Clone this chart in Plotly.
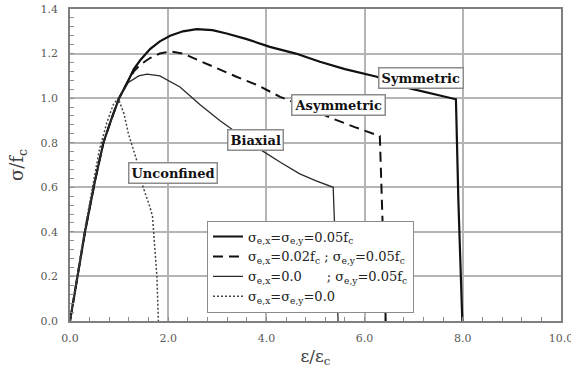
import plotly.graph_objects as go

# Normalised stress-strain curves (strain / eps_c, stress / f_c)
sym_x = [0, 0.15, 0.305, 0.51, 0.68, 0.85, 1.0, 1.19, 1.3, 1.43, 1.63, 1.83, 2.04, 2.3,
         2.58, 2.9, 3.19, 3.6, 4.07, 4.6, 5.09, 5.6, 6.25, 6.92, 7.4, 7.86, 7.91, 7.99]
sym_y = [0, 0.2, 0.4, 0.63, 0.8, 0.91, 1.0, 1.08, 1.13, 1.17, 1.22, 1.255, 1.28, 1.30,
         1.31, 1.305, 1.29, 1.265, 1.23, 1.20, 1.163, 1.13, 1.096, 1.044, 1.02, 0.995, 0.54, 0]

asym_x = [0, 0.15, 0.305, 0.51, 0.68, 0.85, 1.0, 1.19, 1.3, 1.43, 1.63, 1.83, 2.04, 2.3,
          2.51, 2.9, 3.39, 3.8, 4.28, 4.8, 5.33, 5.8, 6.31, 6.43]
asym_y = [0, 0.2, 0.4, 0.63, 0.8, 0.91, 1.0, 1.08, 1.12, 1.15, 1.18, 1.20, 1.21, 1.20,
          1.18, 1.14, 1.096, 1.06, 1.006, 0.96, 0.91, 0.87, 0.83, 0]

biax_x = [0, 0.15, 0.305, 0.51, 0.68, 0.85, 1.0, 1.19, 1.4, 1.57, 1.83, 2.24, 2.65, 3.05,
          3.5, 3.87, 4.3, 4.68, 5.0, 5.36, 5.46]
biax_y = [0, 0.2, 0.4, 0.63, 0.8, 0.91, 1.0, 1.07, 1.10, 1.108, 1.10, 1.05, 0.97, 0.90,
          0.83, 0.77, 0.71, 0.66, 0.63, 0.60, 0]

unc_x = [0, 0.15, 0.3, 0.45, 0.6, 0.75, 0.88, 0.98, 1.1, 1.19, 1.36, 1.49, 1.54, 1.63,
         1.68, 1.71, 1.77, 1.80]
unc_y = [0, 0.21, 0.41, 0.59, 0.77, 0.89, 0.97, 1.0, 0.93, 0.84, 0.72, 0.60, 0.57, 0.51,
         0.47, 0.39, 0.2, 0]

series_names = [
    "σ<sub>e,x</sub>=σ<sub>e,y</sub>=0.05f<sub>c</sub>",
    "σ<sub>e,x</sub>=0.02f<sub>c</sub> ; σ<sub>e,y</sub>=0.05f<sub>c</sub>",
    "σ<sub>e,x</sub>=0.0\u00a0\u00a0\u00a0\u00a0\u00a0\u00a0; σ<sub>e,y</sub>=0.05f<sub>c</sub>",
    "σ<sub>e,x</sub>=σ<sub>e,y</sub>=0.0",
]

# Curve labels and where they sit
label_text = ["Symmetric", "Asymmetric", "Biaxial", "Unconfined"]
label_x = [7.14, 5.46, 3.77, 2.10]
label_y = [1.092, 0.969, 0.813, 0.665]

# Axis ticks: major step, minor step, label format
x_range = [0, 10]
x_major, x_minor = 2.0, 0.4
y_range = [0, 1.4]
y_major, y_minor = 0.2, 0.04
tick_format = ".1f"

SERIF = "DejaVu Serif"
GRID = "#b4b4b4"

fig = go.Figure()
fig.add_trace(go.Scatter(x=sym_x, y=sym_y, mode="lines", name=series_names[0],
                         line=dict(color="#111111", width=2.2)))
fig.add_trace(go.Scatter(x=asym_x, y=asym_y, mode="lines", name=series_names[1],
                         line=dict(color="#111111", width=2, dash="10px,6px")))
fig.add_trace(go.Scatter(x=biax_x, y=biax_y, mode="lines", name=series_names[2],
                         line=dict(color="#2a2a2a", width=1.3)))
fig.add_trace(go.Scatter(x=unc_x, y=unc_y, mode="lines", name=series_names[3],
                         line=dict(color="#444444", width=1.5, dash="2px,2px")))
# empty trace that anchors the overlay axes carrying the small inner ticks
fig.add_trace(go.Scatter(x=[], y=[], xaxis="x2", yaxis="y2", showlegend=False,
                         hoverinfo="skip"))

for t, lx, ly in zip(label_text, label_x, label_y):
    fig.add_annotation(x=lx, y=ly, text=f"<b>{t}</b>", showarrow=False,
                       font=dict(family=SERIF, size=13, color="#111111"),
                       bgcolor="white", bordercolor="#8c8c8c", borderwidth=1.5,
                       borderpad=2)

# Major ticks are invisible spacers that push the labels off the axis.
axis_common = dict(
    showline=True, linecolor="#7f7f7f", linewidth=1.5, mirror=True,
    showgrid=True, gridcolor=GRID, gridwidth=2,
    zeroline=False, ticks="outside", tickcolor="rgba(0,0,0,0)",
    tickfont=dict(family=SERIF, size=11, color="#595959"),
    tickmode="linear", tick0=0, tickformat=tick_format,
    ticklabeloverflow="allow",
)
minor_common = dict(
    showline=False, showgrid=False, zeroline=False, showticklabels=False,
    ticks="inside", ticklen=4, tickcolor="#8c8c8c", tickwidth=1,
    tickmode="linear", tick0=0,
)

fig.update_layout(
    xaxis=dict(
        range=x_range, dtick=x_major, ticklen=6,
        title=dict(text="ε/ε<sub>c</sub>", font=dict(family=SERIF, size=17, color="#404040"),
                   standoff=6),
        **axis_common,
    ),
    yaxis=dict(
        range=y_range, dtick=y_major, ticklen=8,
        title=dict(text="σ/f<sub>c</sub>", font=dict(family=SERIF, size=18, color="#404040"),
                   standoff=12),
        **axis_common,
    ),
    xaxis2=dict(range=x_range, dtick=x_minor, overlaying="x", side="bottom",
                anchor="y2", **minor_common),
    yaxis2=dict(range=y_range, dtick=y_minor, overlaying="y", side="left",
                anchor="x2", **minor_common),
)

fig.update_layout(
    width=571, height=378,
    margin=dict(l=70, r=10, t=9, b=57, autoexpand=False),
    paper_bgcolor="white", plot_bgcolor="white",
    showlegend=True,
    legend=dict(x=0.279, y=0.322, xanchor="left", yanchor="top",
                bgcolor="white", bordercolor="#8c8c8c", borderwidth=1,
                font=dict(family=SERIF, size=13, color="#222222"),
                itemwidth=30, tracegroupgap=0),
)

fig.write_html("out.html")
